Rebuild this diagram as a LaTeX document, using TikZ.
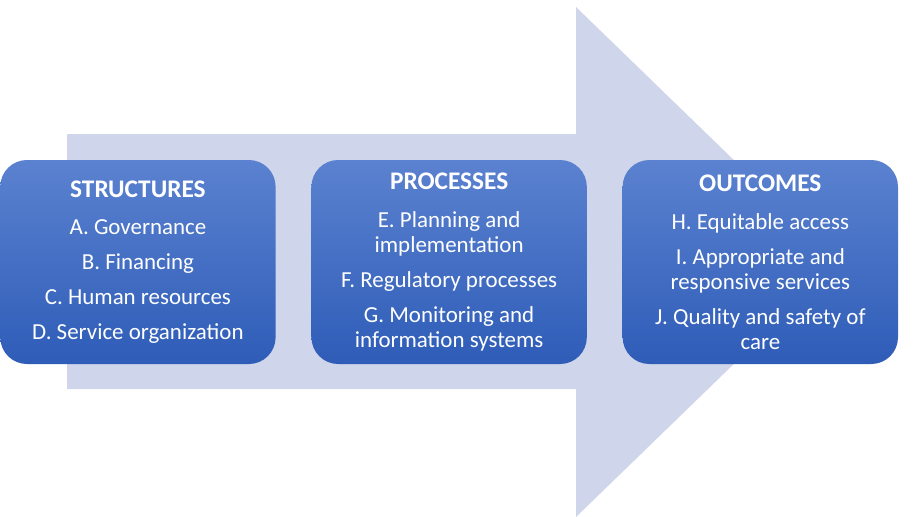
\documentclass[tikz,border=0pt]{standalone}
\usepackage{fontspec}
\setmainfont{Carlito}
\usepackage{tikz}
\usetikzlibrary{positioning}
\definecolor{arrowfill}{RGB}{207,213,234}
\definecolor{boxtop}{RGB}{91,130,208}
\definecolor{boxbottom}{RGB}{46,92,183}
\tikzset{
  stagebox/.style={rounded corners=20pt, top color=boxtop, bottom color=boxbottom,
    minimum width=206.5pt, minimum height=153pt, inner sep=0pt,
    text=white, align=center, font=\fontsize{17.2}{18.75}\selectfont}
}
\newcommand{\stagehead}[1]{{\fontsize{19}{18.75}\selectfont\bfseries #1}\\[9.5pt]}

\begin{document}
\begin{tikzpicture}[x=0.75pt, y=-0.75pt, node distance=26.5pt]
            \useasboundingbox (0,0) rectangle (913,517);
            % Define points
            \coordinate (T1) at (67,134);
            \coordinate (T2) at (576,134);
            \coordinate (T3) at (576,7);
            \coordinate (Tip) at (839,262);
            \coordinate (B3) at (576,517);
            \coordinate (B2) at (576,389);
            \coordinate (B1) at (67,389);
            % Background arrow
            \fill[arrowfill] (T1) -- (T2) -- (T3) -- (Tip) -- (B3) -- (B2) -- (B1) -- cycle;
            % Stage boxes
            \node[stagebox, anchor=west] (struct) at (0,262)
              {\stagehead{STRUCTURES}
               A. Governance\\[7.5pt]
               B. Financing\\[7.5pt]
               C. Human resources\\[7.5pt]
               D. Service organization};
            \node[stagebox, right=of struct] (proc)
              {\stagehead{PROCESSES}
               E. Planning and\\implementation\\[7.5pt]
               F. Regulatory processes\\[7.5pt]
               G. Monitoring and\\information systems};
            \node[stagebox, right=of proc] (outc)
              {\stagehead{OUTCOMES}
               H. Equitable access\\[7.5pt]
               I. Appropriate and\\responsive services\\[7.5pt]
               J. Quality and safety of\\care};
          \end{tikzpicture}
\end{document}
